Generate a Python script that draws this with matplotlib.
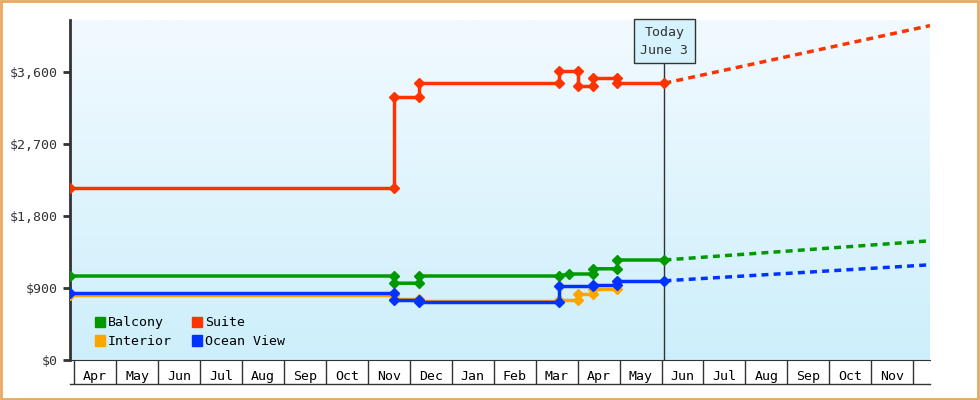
#! /usr/bin/env python3
import numpy as np
import matplotlib
matplotlib.use('Agg')
import matplotlib.pyplot as plt

# x positions are in months since Apr 1 (first year)
months = ['Apr', 'May', 'Jun', 'Jul', 'Aug', 'Sep', 'Oct', 'Nov', 'Dec', 'Jan', 'Feb',
          'Mar', 'Apr', 'May', 'Jun', 'Jul', 'Aug', 'Sep', 'Oct', 'Nov']
today_x = 14.07

suite_x = [-0.1, 7.62, 7.62, 8.21, 8.21, 11.55, 11.55, 12.0, 12.0, 12.36, 12.36, 12.95, 12.95, 14.07]
suite_y = [2150, 2150, 3290, 3290, 3460, 3460, 3610, 3610, 3420, 3420, 3530, 3530, 3460, 3460]
balcony_x = [-0.1, 7.62, 7.62, 8.21, 8.21, 11.55, 11.79, 12.36, 12.36, 12.95, 12.95, 14.07]
balcony_y = [1050, 1050, 960, 960, 1050, 1050, 1075, 1075, 1140, 1140, 1250, 1250]
interior_x = [-0.1, 7.62, 7.62, 8.21, 8.21, 11.55, 11.55, 12.0, 12.0, 12.36, 12.36, 12.95, 12.95]
interior_y = [810, 810, 760, 760, 740, 740, 750, 750, 820, 820, 890, 890, 960]
ocean_x = [-0.1, 7.62, 7.62, 8.21, 8.21, 11.55, 11.55, 12.36, 12.36, 12.95, 12.95, 14.07]
ocean_y = [840, 840, 750, 750, 725, 725, 925, 925, 935, 935, 990, 990]

proj_end = 20.4
suite_proj = 4180
balcony_proj = 1490
ocean_proj = 1190

colors = {'Balcony': '#009900', 'Suite': '#ff3300', 'Interior': '#ffa500', 'Ocean View': '#0033ff'}

plt.rcParams['font.family'] = ['DejaVu Sans Mono']
fig = plt.figure(figsize=(9.8, 4.0), dpi=100)
fig.patch.set_facecolor('white')
fig.patches.append(plt.Rectangle((0.001, 0.002), 0.997, 0.995, transform=fig.transFigure,
                                 fill=False, edgecolor='#e8a860', linewidth=2))
ax = fig.add_axes([70 / 980, 0.1, 860 / 980, 0.85])
xmin, xmax, ymax = -0.1, proj_end, 4250
grad = np.linspace(0, 1, 256).reshape(-1, 1)
cmap = matplotlib.colors.LinearSegmentedColormap.from_list('bg', ['#cdeffb', '#f2faff'])
ax.imshow(grad, cmap=cmap, aspect='auto', extent=[xmin, xmax, ymax, 0], origin='upper', zorder=0)

def draw(x, y, name):
    ax.plot(x, y, color=colors[name], lw=2.5, marker='D', ms=5, zorder=3)

draw(interior_x, interior_y, 'Interior')
draw(balcony_x, balcony_y, 'Balcony')
draw(ocean_x, ocean_y, 'Ocean View')
draw(suite_x, suite_y, 'Suite')
for name, xs, ys, end in [('Suite', suite_x, suite_y, suite_proj),
                          ('Balcony', balcony_x, balcony_y, balcony_proj),
                          ('Ocean View', ocean_x, ocean_y, ocean_proj)]:
    ax.plot([xs[-1], proj_end], [ys[-1], end], color=colors[name], lw=2.5, ls=(0, (2, 1.5)), zorder=3)

ax.axvline(today_x, color='#333333', lw=1, zorder=2)
ax.text(today_x, ymax - 70, 'Today\nJune 3', ha='center', va='top', fontsize=9.5, color='#333333',
        linespacing=1.5,
        bbox=dict(boxstyle='square,pad=0.5', fc='#d6f2fc', ec='#333333', lw=1), zorder=5)

ax.set_xlim(xmin, xmax)
ax.set_ylim(0, ymax)
ax.set_yticks([0, 900, 1800, 2700, 3600])
ax.set_yticklabels(['$0', '$900', '$1,800', '$2,700', '$3,600'], fontsize=9.5, color='#333333')
ax.tick_params(axis='y', length=5, width=2, color='#333333')
ax.set_xticks(np.arange(0, 21))
ax.set_xticklabels([])
ax.tick_params(axis='x', which='major', length=17.3, width=1, color='#333333')
ax.set_xticks(np.arange(len(months)) + 0.5, minor=True)
ax.set_xticklabels(months, minor=True, fontsize=9.5)
ax.tick_params(axis='x', which='minor', length=0, pad=7)
for s in ['top', 'right']:
    ax.spines[s].set_visible(False)
ax.spines['left'].set_linewidth(2)
ax.spines['left'].set_color('#333333')
ax.spines['bottom'].set_color('#333333')
fig.add_artist(plt.Line2D([70 / 980, 930 / 980], [16 / 400, 16 / 400], color='#333333', lw=1))

handles = [plt.Rectangle((0, 0), 1, 1, color=colors[n]) for n in ['Balcony', 'Interior', 'Suite', 'Ocean View']]
ax.legend(handles, ['Balcony', 'Interior', 'Suite', 'Ocean View'], ncol=2, loc='lower left',
          bbox_to_anchor=(0.015, 0.0), frameon=False, fontsize=9.5, handlelength=0.8,
          handleheight=0.8, handletextpad=0.2, columnspacing=1.5, labelspacing=0.45)

plt.savefig('out.png')
